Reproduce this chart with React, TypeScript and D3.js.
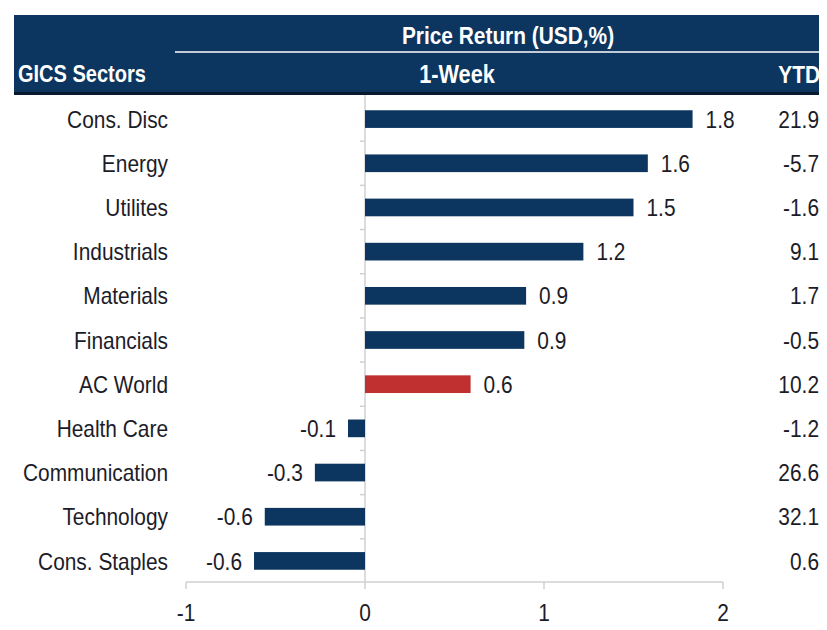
import * as d3 from "d3";

const sectors = ["Cons. Disc", "Energy", "Utilites", "Industrials", "Materials", "Financials", "AC World", "Health Care", "Communication", "Technology", "Cons. Staples"];
const weekReturn = [1.83, 1.58, 1.5, 1.22, 0.9, 0.89, 0.59, -0.095, -0.28, -0.56, -0.62];
const weekLabels = ["1.8", "1.6", "1.5", "1.2", "0.9", "0.9", "0.6", "-0.1", "-0.3", "-0.6", "-0.6"];
const ytdLabels = ["21.9", "-5.7", "-1.6", "9.1", "1.7", "-0.5", "10.2", "-1.2", "26.6", "32.1", "0.6"];
const xTicks = [-1, 0, 1, 2];
const highlight = "AC World";

const W = 827;
const H = 630;
const NAVY = "#0c3660";
const RED = "#c03030";
const TEXT = "#1c1c28";
const FONT = "'Liberation Sans Narrow', 'Arial Narrow', 'Liberation Sans', Arial, sans-serif";
const SX = 0.87; // squeeze to mimic a narrow face

function Txt({ x, y, anchor = "start", fill = TEXT, size = 24, bold = false, children }: any) {
  return (
    <text
      transform={`translate(${x},${y}) scale(${SX},1)`}
      dy="0.36em"
      textAnchor={anchor}
      fill={fill}
      fontSize={size}
      fontWeight={bold ? "bold" : "normal"}
    >
      {children}
    </text>
  );
}

export default function App() {
  const x = d3.scaleLinear().domain([-1, 2]).range([186, 723]);
  const y = d3.scaleBand<string>().domain(sectors).range([97, 583]).paddingInner(0.6).paddingOuter(0.3);
  const yOuter = d3.scaleBand<string>().domain(sectors).range([97, 583]);
  const axisY = 582;

  return (
    <div style={{ margin: -8 }}>
      <svg width={W} height={H} style={{ display: "block", fontFamily: FONT }}>
        <rect width={W} height={H} fill="#fff" />
        {/* header */}
        <rect x={14} y={15} width={W - 14} height={79} fill={NAVY} />
        <rect x={14} y={92} width={W - 14} height={3} fill="#0a1a2c" />
        <line x1={175} x2={W} y1={52} y2={52} stroke="#fff" strokeWidth={1.5} />
        <Txt x={508} y={35} anchor="middle" fill="#fff" size={24} bold>Price Return (USD,%)</Txt>
        <Txt x={18} y={74} fill="#fff" size={23} bold>GICS Sectors</Txt>
        <Txt x={457} y={74} anchor="middle" fill="#fff" size={25} bold>1-Week</Txt>
        <Txt x={820} y={74} anchor="end" fill="#fff" size={24} bold>YTD</Txt>

        {/* vertical zero axis with category ticks */}
        <line x1={x(0)} x2={x(0)} y1={95} y2={axisY} stroke="#d0d0d0" strokeWidth={1.5} />
        {sectors.slice(1).map((s) => (
          <line key={s} x1={x(0) - 5} x2={x(0)} y1={yOuter(s)!} y2={yOuter(s)!} stroke="#d0d0d0" strokeWidth={1.5} />
        ))}

        {/* bars */}
        {sectors.map((s, i) => {
          const v = weekReturn[i];
          const x0 = x(Math.min(0, v));
          const x1 = x(Math.max(0, v));
          const cy = y(s)! + y.bandwidth() / 2;
          return (
            <g key={s}>
              <rect x={x0} y={y(s)!} width={x1 - x0} height={y.bandwidth()} fill={s === highlight ? RED : NAVY} />
              <Txt x={v >= 0 ? x1 + 13 : x0 - 12} y={cy} anchor={v >= 0 ? "start" : "end"}>{weekLabels[i]}</Txt>
              <Txt x={168} y={cy} anchor="end">{s}</Txt>
              <Txt x={819} y={cy} anchor="end">{ytdLabels[i]}</Txt>
            </g>
          );
        })}

        {/* x axis */}
        <line x1={x(-1)} x2={x(2)} y1={axisY} y2={axisY} stroke="#d0d0d0" strokeWidth={1.5} />
        {xTicks.map((t) => (
          <g key={t}>
            <line x1={x(t)} x2={x(t)} y1={axisY} y2={axisY + 7} stroke="#d0d0d0" strokeWidth={1.5} />
            <Txt x={x(t)} y={612} anchor="middle">{t}</Txt>
          </g>
        ))}
      </svg>
    </div>
  );
}
